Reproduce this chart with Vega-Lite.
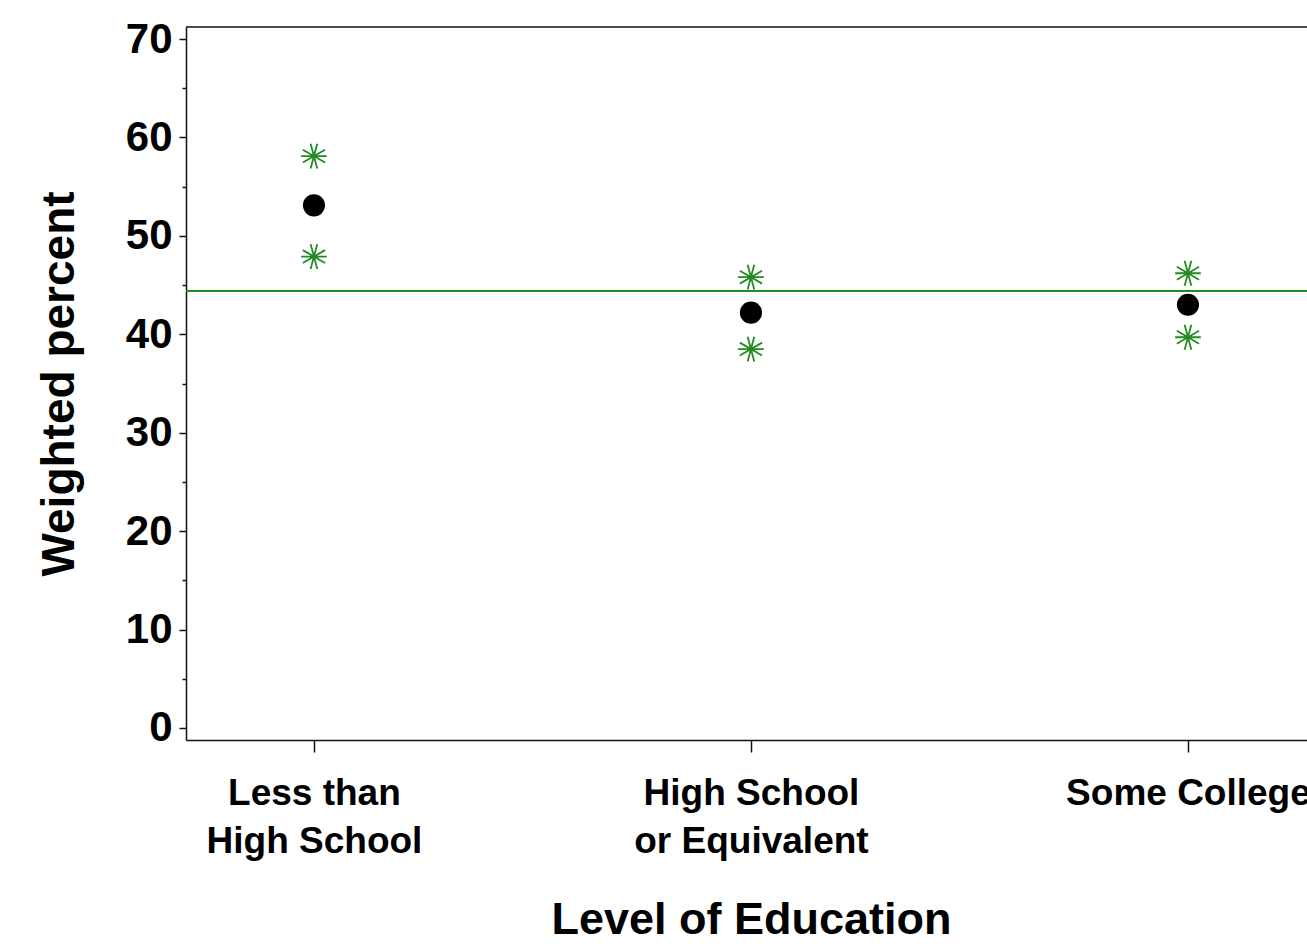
{
  "$schema": "https://vega.github.io/schema/vega-lite/v6.json",
  "autosize": {"type": "none"},
  "padding": {"left": 186, "top": 27, "right": 0, "bottom": 210},
  "width": 1121,
  "height": 713,
  "background": "white",
  "config": {
    "view": {"stroke": null},
    "font": "Liberation Sans",
    "axis": {"domainColor": "#111", "tickColor": "#111", "domainWidth": 1.5, "tickWidth": 1.5, "grid": false, "labelColor": "black", "titleColor": "black", "labelFont": "Liberation Sans", "titleFont": "Liberation Sans"}
  },
  "data": {
    "values": [
      {"level": "Less than High School", "stat": "mean", "value": 53.1},
      {"level": "Less than High School", "stat": "upper", "value": 58.1},
      {"level": "Less than High School", "stat": "lower", "value": 47.9},
      {"level": "High School or Equivalent", "stat": "mean", "value": 42.2},
      {"level": "High School or Equivalent", "stat": "upper", "value": 45.8},
      {"level": "High School or Equivalent", "stat": "lower", "value": 38.5},
      {"level": "Some College", "stat": "mean", "value": 43.0},
      {"level": "Some College", "stat": "upper", "value": 46.2},
      {"level": "Some College", "stat": "lower", "value": 39.7}
    ]
  },
  "encoding": {
    "x": {
      "field": "level",
      "type": "ordinal",
      "sort": ["Less than High School", "High School or Equivalent", "Some College"],
      "scale": {"type": "point", "padding": 0.2826, "align": 0.518},
      "axis": {
        "title": "Level of Education",
        "titleFontSize": 45,
        "titleFontWeight": "bold",
        "titlePadding": 38,
        "titleX": 565,
        "labelAngle": 0,
        "labelFontSize": 37,
        "labelFontWeight": "bold",
        "labelPadding": 23,
        "labelLineHeight": 48,
        "labelLimit": 500,
        "tickSize": 12,
        "labelExpr": "datum.value == 'Less than High School' ? ['Less than', 'High School'] : datum.value == 'High School or Equivalent' ? ['High School', 'or Equivalent'] : datum.label"
      }
    },
    "y": {
      "field": "value",
      "type": "quantitative",
      "scale": {"domain": [-1.22, 71.22], "nice": false, "zero": false},
      "axis": {
        "title": "Weighted percent",
        "titleFontSize": 46,
        "titleFontWeight": "bold",
        "titlePadding": 42,
        "values": [0, 5, 10, 15, 20, 25, 30, 35, 40, 45, 50, 55, 60, 65, 70],
        "labelExpr": "datum.value % 10 === 0 ? datum.label : ''",
        "labelFontSize": 42,
        "labelFontWeight": "bold",
        "labelPadding": 7,
        "tickSize": {"condition": {"test": "datum.value % 10 === 0", "value": 7}, "value": 4}
      }
    }
  },
  "layer": [
    {
      "data": {"values": [{"frame": 71.22}]},
      "mark": {"type": "rule", "color": "#111", "strokeWidth": 1.5},
      "encoding": {"x": null, "y": {"field": "frame", "type": "quantitative"}}
    },
    {
      "data": {"values": [{"overall": 44.4}]},
      "mark": {"type": "rule", "color": "#228b22", "strokeWidth": 2},
      "encoding": {"x": null, "y": {"field": "overall", "type": "quantitative"}}
    },
    {
      "transform": [{"filter": "datum.stat !== 'mean'"}],
      "mark": {
        "type": "point",
        "shape": "M-1,0L1,0M-0.866,-0.5L0.866,0.5M-0.866,0.5L0.866,-0.5M-0.259,-0.966L0.259,0.966M-0.259,0.966L0.259,-0.966",
        "size": 660,
        "filled": false,
        "stroke": "#228b22",
        "strokeWidth": 1.8,
        "opacity": 1
      }
    },
    {
      "transform": [{"filter": "datum.stat === 'mean'"}],
      "mark": {"type": "circle", "size": 490, "color": "black", "opacity": 1}
    }
  ]
}
